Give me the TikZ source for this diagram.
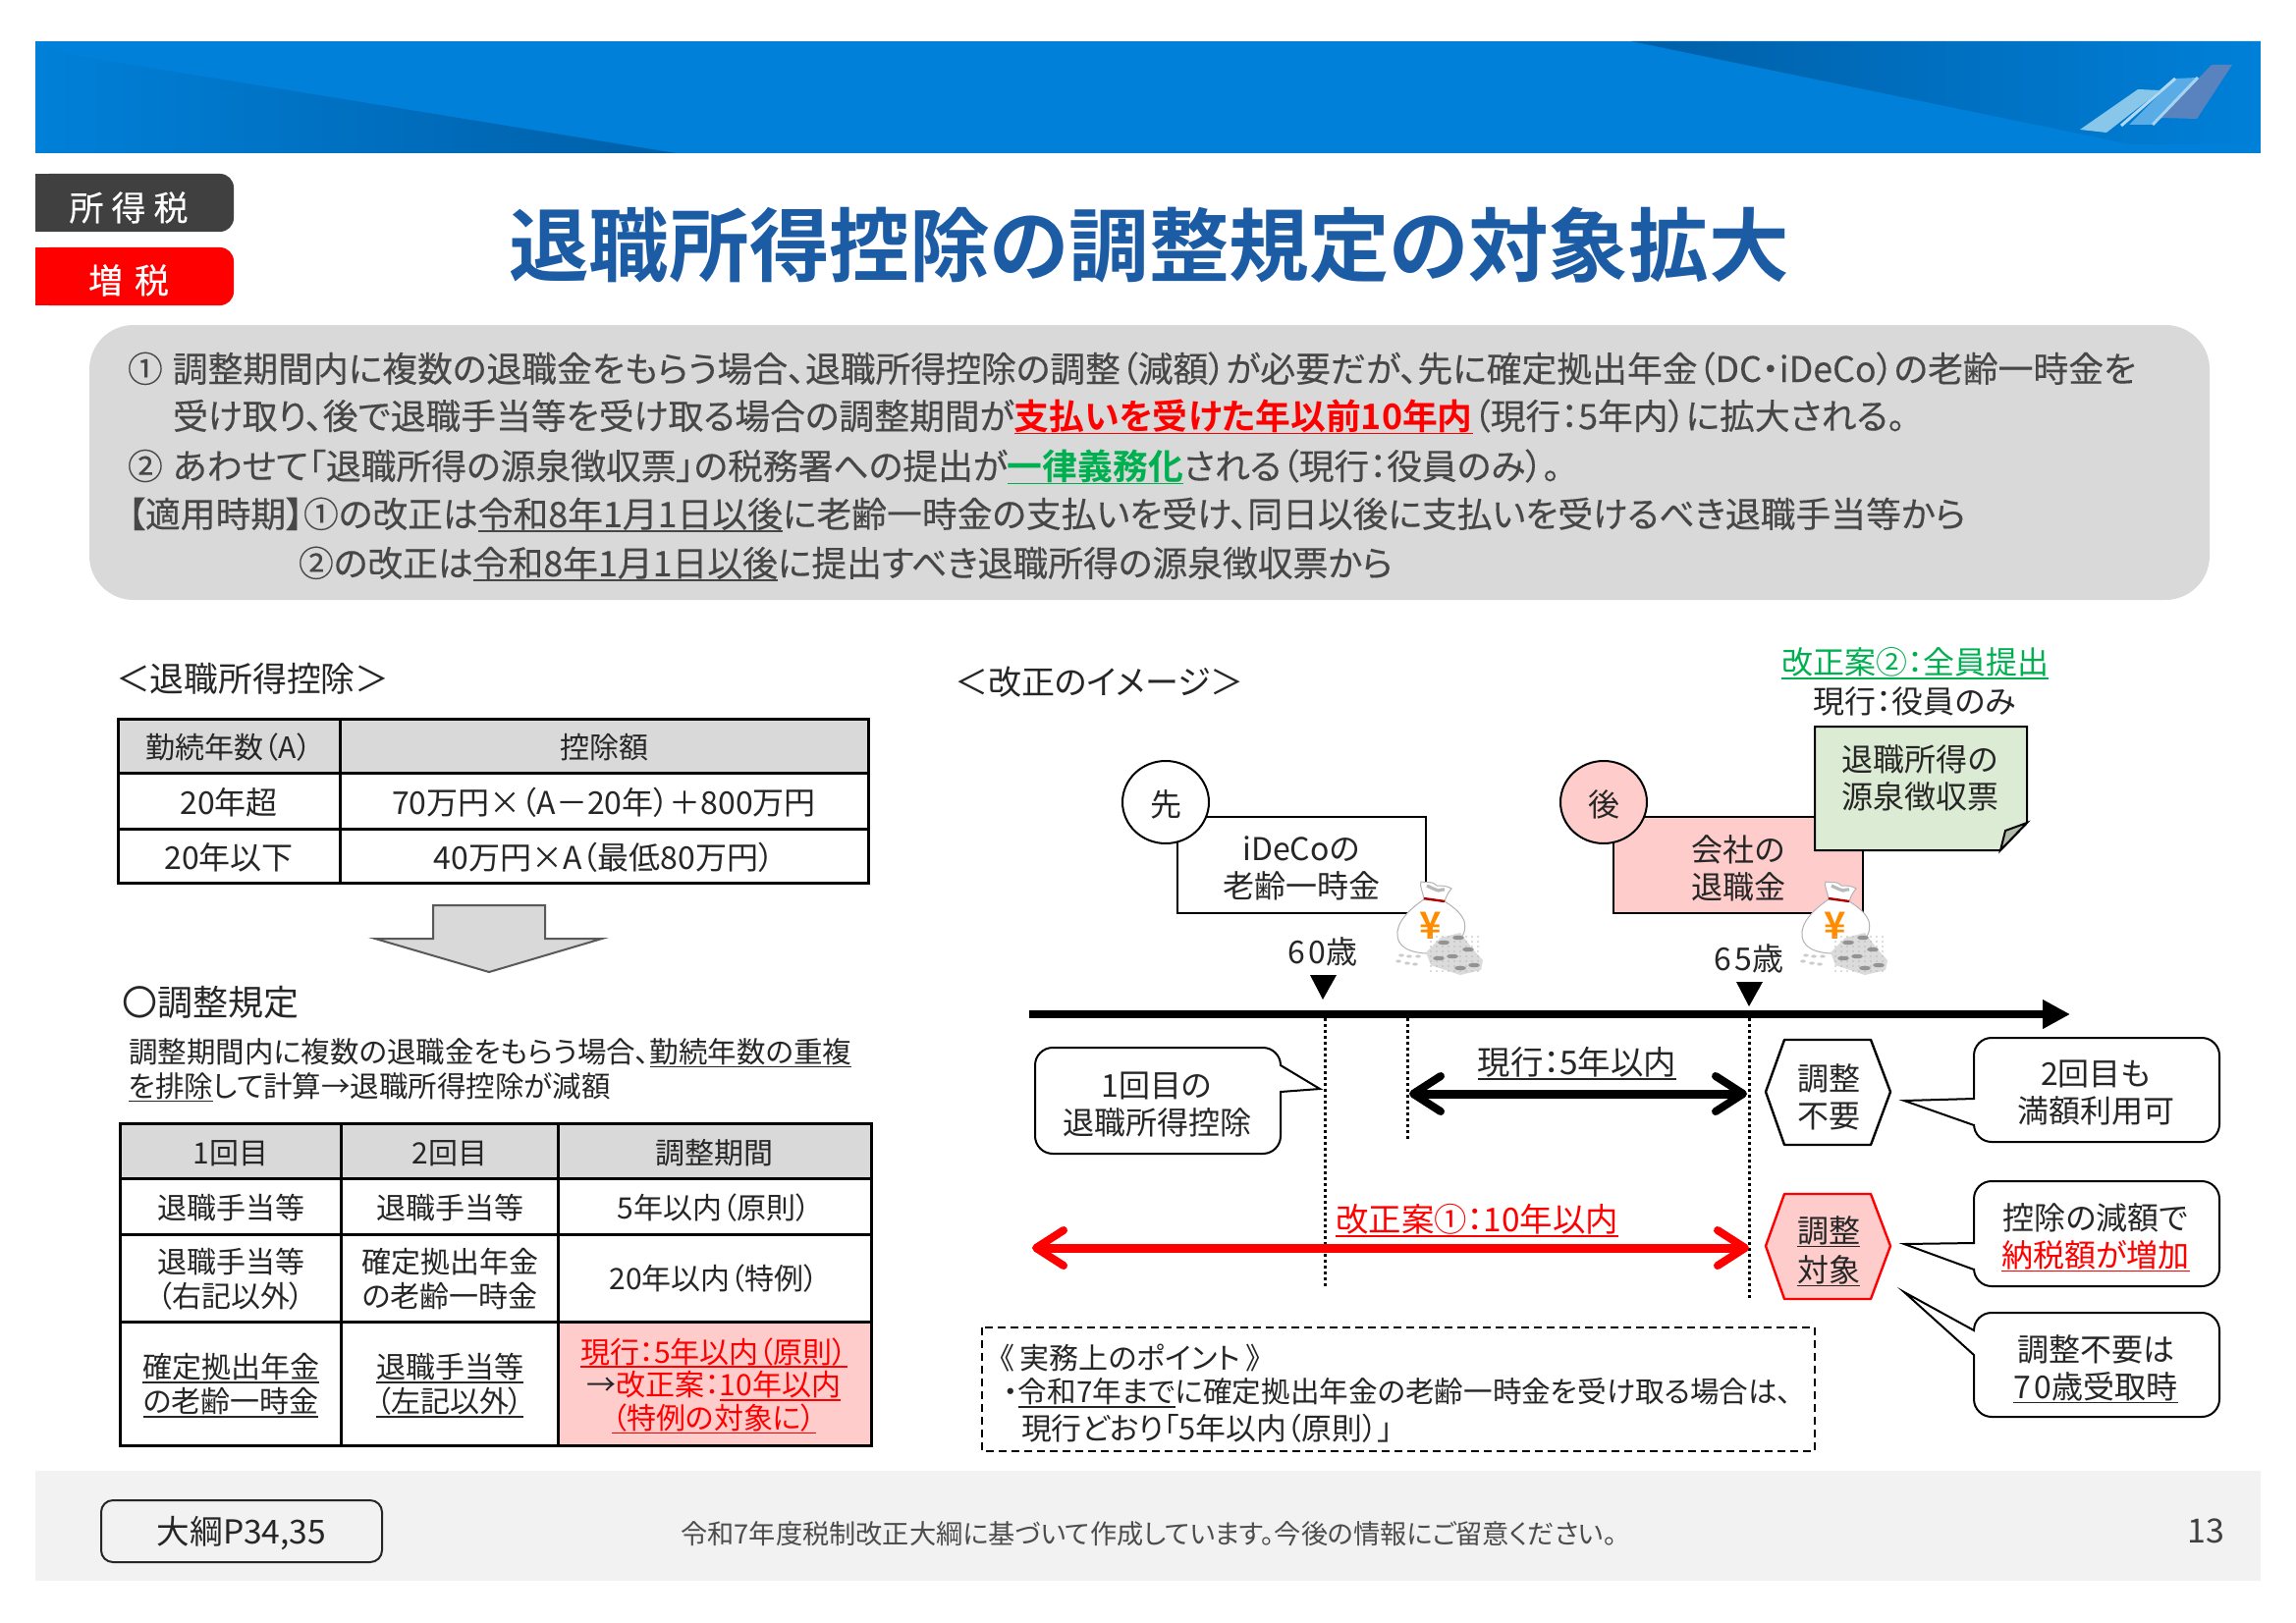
\documentclass[tikz,border=0pt]{standalone}
\usepackage{fontspec}
\usetikzlibrary{arrows.meta,calc}
\setmainfont{Noto Sans CJK JP}[RawFeature=+palt]
\newfontfamily\medf{Noto Sans CJK JP}[FakeBold=0.25,RawFeature=+palt]
\newfontfamily\bldf{Noto Sans CJK JP Bold}[RawFeature=+palt]
\newfontfamily\digf{Noto Sans CJK JP}[LetterSpace=12]
\definecolor{band}{HTML}{0080D8}
\definecolor{banddark}{HTML}{005FA8}
\definecolor{titleblue}{HTML}{1B5CA5}
\definecolor{ink}{HTML}{262626}
\definecolor{boxgray}{HTML}{D9D9D9}
\definecolor{pink}{HTML}{FFCCCC}
\definecolor{notegreen}{HTML}{DCEBD3}
\definecolor{okgreen}{HTML}{00B050}
\definecolor{footgray}{HTML}{F2F2F2}
\newcommand\myul[2][2.6pt]{\setbox0\hbox{#2}\leavevmode\rlap{\rule[-#1]{\wd0}{0.9pt}}\box0}
\newcommand\callout[8]{% x1 x2 top bottom tipx tipy base1 base2 : pointer side chosen by tip
  \draw[calloutline] (#1,#7) [rounded corners=9pt] -- (#1,#3) -- (#2,#3) -- (#2,#4) -- (#1,#4) [sharp corners] -- (#1,#8) -- (#5,#6) -- cycle;}
\newcommand\moneybag[2]{%
 \begin{scope}[shift={(#1,#2)}]
  \draw[gray!60,fill=white,line width=.5pt] (-7,-24) .. controls (-8,-32) and (-12,-38) .. (-10,-42) .. controls (-4,-40) and (0,-44) .. (6,-38) .. controls (12,-38) and (16,-38) .. (21,-35) .. controls (17,-30) and (15,-26) .. (14,-21) -- cycle;
  \draw[gray!55,line width=1.6pt] (-4,-38) .. controls (0,-36) and (4,-34) .. (8,-33) .. controls (10,-34) and (12,-34) .. (14,-34);
  \draw[gray!60,fill=white,line width=.5pt] (-7,-24) .. controls (-22,-14) and (-36,0) .. (-34,14) .. controls (-32,28) and (-14,32) .. (6,31) .. controls (26,28) and (38,12) .. (34,-2) .. controls (30,-12) and (20,-18) .. (14,-22) -- cycle;
  \draw[red!70!black,line width=1.2pt] (-7,-25) -- (14,-22);
  \node[font=\bldf\fontsize{19}{19}\selectfont,text=orange!90!yellow,inner sep=0] at (0,3) {¥};
  \fill[gray!28] (-5,30) -- (10,15) -- (30,10) -- (43,27) -- (53,38) -- (51,48) -- (30,53) -- (0,43) -- cycle;
  \foreach \a in {0,6,...,48}{\foreach \b in {14,19,...,50}{\fill[gray!55] (\a,\b) circle (.9);}}
  \foreach \a/\b in {13/20,28/15,38/27,22/34,44/43,8/36,30/46}{\fill[gray!85] (\a,\b) ellipse (6 and 2.2);}
  \foreach \a/\b in {-30/33,-22/34,-13/34,-33/39,-24/41,-16/42}{\fill[gray!40] (\a,\b) ellipse (2.8 and 1.6);}
 \end{scope}}
\tikzset{
 base/.style={inner sep=0,outer sep=0,text=ink,yshift=-0.7pt},
 lbl/.style={base,font=\fontsize{16}{19}\selectfont,align=center},
 lead/.style={base,anchor=west,text=ink!85!white,font=\medf\fontsize{17.9}{20}\selectfont},
 head/.style={base,anchor=west,font=\fontsize{17.4}{22}\selectfont},
 cell/.style={base,font=\fontsize{15}{17.5}\selectfont,align=center},
 rule/.style={draw=black,line width=1.5pt},
 tag/.style={base,text=white,font=\medf\fontsize{17.5}{20}\selectfont},
 calloutline/.style={draw=black,fill=white,line width=1pt,line join=miter},
 vdash/.style={draw=black,line width=1.5pt,dash pattern=on 1.5pt off 1.5pt},
 hexline/.style={line width=1.2pt,line join=round},
 bigbarb/.style={line width=4.5pt,{Straight Barb[length=14pt,width=18pt,line width=4pt,round]}-{Straight Barb[length=14pt,width=18pt,line width=4pt,round]}},
}
\begin{document}
\begin{tikzpicture}[x=0.5pt,y=-0.5pt]
\useasboundingbox (0,0) rectangle (2338,1653);
\fill[white] (0,0) rectangle (2338,1653);
% header band
\fill[band] (36,42) rectangle (2302,156);
\begin{scope}
 \clip (36,50) -- (688,156) -- (36,156) -- cycle;
 \shade[left color=band,right color=banddark] (36,42) rectangle (688,156);
\end{scope}
\begin{scope}
 \clip (1661,42) -- (2302,42) -- (2302,147) -- (2170,147) -- cycle;
 \shade[left color=banddark,right color=band] (1661,42) rectangle (2302,156);
\end{scope}
\fill[fill=white!30!band!80!blue!60!gray] (2200,120) -- (2237,121) -- (2273,66) -- (2252,66) -- cycle;
\fill[fill=white!35!band] (2168,127) -- (2192,127) -- (2238,79) -- (2215,80) -- cycle;
\draw[white!65!band,line width=1.5pt] (2192,127) -- (2238,79);
\draw[white!70!band,line width=1.5pt] (2160,128) -- (2215,80);
\fill[white!65!cyan!80!band] (2118,132) -- (2145,135) -- (2200,92) -- (2177,91) -- cycle;
% tags
\fill[black!75,rounded corners=7pt] (36,177) rectangle (238,236);
\fill[black!75] (36,177) rectangle (60,236);
\node[tag] (tagA) at (131,210) {所\hspace{4pt}得\hspace{4pt}税};
\fill[red,rounded corners=7pt] (36,252) rectangle (238,311);
\fill[red] (36,252) rectangle (60,311);
\node[tag] (tagB) at (131,284) {増\hspace{6pt}税};
% title
\node[base,yshift=0.7pt,text=titleblue,font=\bldf\fontsize{40.8}{46}\selectfont] (title) at (1170,250) {退職所得控除の調整規定の対象拡大};
% summary
\fill[boxgray] (91,376) arc[start angle=180,end angle=90,x radius=45,y radius=-45] -- (2205,331) arc[start angle=90,end angle=0,x radius=45,y radius=-45] -- (2250,566) arc[start angle=0,end angle=-90,x radius=45,y radius=-45] -- (136,611) arc[start angle=-90,end angle=-180,x radius=45,y radius=-45] -- cycle;
\node[lead] (s1) at (130,374) {①\hspace{5pt}調整期間内に複数の退職金をもらう場合、退職所得控除の調整（減額）が必要だが、先に確定拠出年金（DC・iDeCo）の老齢一時金を};
\node[lead] (s2) at (176,423) {受け取り、後で退職手当等を受け取る場合の調整期間が\textcolor{red}{\bldf\myul{支払いを受けた年以前10年内}}（現行：5年内）に拡大される。};
\node[lead] (s3) at (130,474) {②\hspace{5pt}あわせて「退職所得の源泉徴収票」の税務署への提出が\textcolor{okgreen}{\bldf\myul{一律義務化}}される（現行：役員のみ）。};
\node[lead] (s4) at (130,523) {【適用時期】①の改正は\myul{令和8年1月1日以後}に老齢一時金の支払いを受け、同日以後に支払いを受けるべき退職手当等から};
\node[lead] (s5) at (304,573) {②の改正は\myul{令和8年1月1日以後}に提出すべき退職所得の源泉徴収票から};
% left: deduction table
\node[head] (hL) at (118,690) {＜退職所得控除＞};
\fill[boxgray] (120,732) rectangle (884,787);
\draw[rule] (120,732) rectangle (884,899);
\draw[rule] (120,787) -- (884,787) (120,844) -- (884,844) (346,732) -- (346,899);
\node[cell] (a1) at (233,760) {勤続年数（A）};
\node[cell] (a2) at (615,760) {控除額};
\node[cell,font=\fontsize{16}{19}\selectfont] (a3) at (233,816) {20年超};
\node[cell,font=\fontsize{16}{19}\selectfont] (a4) at (615,816) {70万円×（A－20年）＋800万円};
\node[cell,font=\fontsize{16}{19}\selectfont] (a5) at (233,872) {20年以下};
\node[cell,font=\fontsize{16}{19}\selectfont] (a6) at (615,872) {40万円×A（最低80万円）};
% block arrow
\draw[fill=boxgray,draw=black!65,line width=1pt] (441,922) -- (555,922) -- (555,956) -- (613,956) -- (498,990) -- (382,956) -- (441,956) -- cycle;
\node[head,font=\fontsize{18}{22}\selectfont] (hR) at (124,1020) {〇調整規定};
\node[base,anchor=west,font=\fontsize{14.75}{17}\selectfont] (n1) at (131,1071) {調整期間内に複数の退職金をもらう場合、\myul{勤続年数の重複}};
\node[base,anchor=west,font=\fontsize{14.75}{17}\selectfont] (n2) at (131,1106) {\myul{を排除}して計算→退職所得控除が減額};
% left: adjustment table
\fill[boxgray] (122,1144) rectangle (887,1200);
\fill[pink] (568,1346) rectangle (887,1472);
\draw[rule] (122,1144) rectangle (887,1472);
\draw[rule] (122,1200) -- (887,1200) (122,1257) -- (887,1257) (122,1346) -- (887,1346) (347,1144) -- (347,1472) (568,1144) -- (568,1472);
\node[cell] (b1) at (235,1173) {1回目};
\node[cell] (b2) at (458,1173) {2回目};
\node[cell] (b3) at (727,1173) {調整期間};
\node[cell] (b4) at (235,1229) {退職手当等};
\node[cell] (b5) at (458,1229) {退職手当等};
\node[cell] (b6) at (727,1229) {5年以内（原則）};
\node[cell] (b7) at (235,1301) {退職手当等\\（右記以外）};
\node[cell] (b8) at (458,1301) {確定拠出年金\\の老齢一時金};
\node[cell] (b9) at (727,1301) {20年以内（特例）};
\node[cell] (b10) at (235,1410) {\myul{確定拠出年金}\\\myul{の老齢一時金}};
\node[cell] (b11) at (458,1410) {\myul{退職手当等}\\\myul{（左記以外）}};
\node[cell,font=\fontsize{15}{16.8}\selectfont] (b12) at (727,1410) {\textcolor{red}{\myul{現行：5年以内（原則）}}\\→\textcolor{red}{改正案：\myul{10年以内}}\\\textcolor{red}{\myul{（特例の対象に）}}};
% right heading
\node[head,font=\fontsize{17}{22}\selectfont] (hI) at (972,693) {＜改正のイメージ＞};
\node[lbl,text=okgreen] (p2) at (1950,674) {\myul{改正案②：全員提出}};
\node[lbl] (p0) at (1950,713) {現行：役員のみ};
% boxes
\draw[draw=black,fill=white,line width=1pt] (1199,832) rectangle (1452,930);
\node[lbl] (bI) at (1325,883) {iDeCoの\\老齢一時金};
\draw[draw=black,fill=white,line width=1pt] (1187,817) ellipse (44 and 42);
\node[lbl] (cA) at (1187,818) {先};
\draw[draw=black,fill=pink,line width=1pt] (1643,832) rectangle (1897,930);
\node[lbl] (bC) at (1770,883) {会社の\\退職金};
\draw[draw=black,fill=pink,line width=1pt] (1633,817) ellipse (44 and 42);
\node[lbl] (cB) at (1633,818) {後};
% slip
\draw[draw=black,fill=notegreen,line width=1pt] (1848,740) -- (2064,740) -- (2064,838) -- (2037,866) -- (1848,866) -- cycle;
\draw[draw=black,fill=notegreen!80!black,line width=1pt] (2064,838) -- (2042,846) -- (2037,866) -- cycle;
\node[lbl] (slip) at (1955,791) {退職所得の\\源泉徴収票};
% money bags
\moneybag{1457}{940}
\moneybag{1869}{940}
% ages
\node[lbl] (age60) at (1347,968) {{\digf 60}歳};
\node[lbl] (age65) at (1781,975) {{\digf 65}歳};
% timeline
\coordinate (tlS) at (1048,1033);
\coordinate (tlE) at (2108,1033);
\draw[line width=4pt,-{Triangle[length=14pt,width=14pt]}] (tlS) -- (tlE);
\fill[black] (1334,993) -- (1361,993) -- (1347,1018) -- cycle;
\fill[black] (1768,1000) -- (1795,1000) -- (1781,1025) -- cycle;
\draw[vdash] (1349,1037) -- (1349,1313);
\draw[vdash] (1433,1037) -- (1433,1163);
\draw[vdash] (1781,1037) -- (1781,1322);
% spans
\coordinate (cS) at (1435,1114);
\coordinate (cE) at (1779,1114);
\draw[bigbarb] (cS) -- (cE);
\node[lbl,font=\fontsize{16.7}{19}\selectfont] (cL) at (1606,1082) {\myul{現行：5年以内}};
\coordinate (dS) at (1051,1271);
\coordinate (dE) at (1781,1271);
\draw[bigbarb,red] (dS) -- (dE);
\node[lbl,text=red,font=\fontsize{16.7}{19}\selectfont] (dL) at (1504,1242) {\myul{改正案①：10年以内}};
% callouts
\draw[calloutline] (1304,1112) [rounded corners=9pt] -- (1304,1175) -- (1054,1175) -- (1054,1067) -- (1304,1067) [sharp corners] -- (1304,1085) -- (1344,1109) -- cycle;
\node[lbl] (q1) at (1178,1124) {1回目の\\退職所得控除};
\callout{2010}{2260}{1057}{1163}{1939}{1121}{1119}{1146}
\node[lbl] (q2) at (2134,1112) {2回目も\\満額利用可};
\callout{2010}{2260}{1203}{1310}{1939}{1267}{1266}{1293}
\node[lbl] (q3) at (2134,1259) {控除の減額で\\\textcolor{red}{\myul{納税額が増加}}};
\callout{2010}{2260}{1337}{1443}{1939}{1316}{1355}{1380}
\node[lbl] (q4) at (2134,1393) {調整不要は\\\myul{{\digf 70}歳受取時}};
% hexagons
\draw[hexline,draw=black,fill=white] (1798,1112) -- (1817,1059) -- (1905,1059) -- (1925,1112) -- (1905,1166) -- (1817,1166) -- cycle;
\node[lbl] (h1) at (1862,1116) {調整\\不要};
\draw[hexline,draw=red,fill=pink] (1798,1269) -- (1817,1216) -- (1905,1216) -- (1925,1269) -- (1905,1323) -- (1817,1323) -- cycle;
\node[lbl,font=\fontsize{16}{20}\selectfont] (h2) at (1862,1273) {\myul{調整}\\\myul{対象}};
% practice box
\draw[draw=black,line width=1pt,dash pattern=on 4pt off 2.5pt] (1000,1352) rectangle (1848,1478);
\node[base,anchor=west,font=\fontsize{15}{18}\selectfont] (k1) at (1018,1382) {《\hspace{3pt}実務上のポイント\hspace{3pt}》};
\node[base,anchor=west,font=\fontsize{14.8}{18}\selectfont] (k2) at (1022,1417) {・\myul{令和7年まで}に確定拠出年金の老齢一時金を受け取る場合は、};
\node[base,anchor=west,font=\fontsize{15.4}{18}\selectfont] (k3) at (1040,1453) {現行どおり「5年以内（原則）」};
% footer
\fill[footgray] (36,1498) rectangle (2302,1610);
\draw[draw=black!85,fill=footgray,line width=1pt,rounded corners=6pt] (103,1528) rectangle (389,1591);
\node[lbl,font=\fontsize{16.8}{19}\selectfont] (ref) at (246,1560) {大綱P34,35};
\node[base,text=black!70,font=\fontsize{13.6}{16}\selectfont] (foot) at (1170,1561) {令和7年度税制改正大綱に基づいて作成しています。今後の情報にご留意ください。};
\node[base,text=black!75,font=\fontsize{17}{19}\selectfont] (page) at (2246,1558) {13};
\end{tikzpicture}
\end{document}
